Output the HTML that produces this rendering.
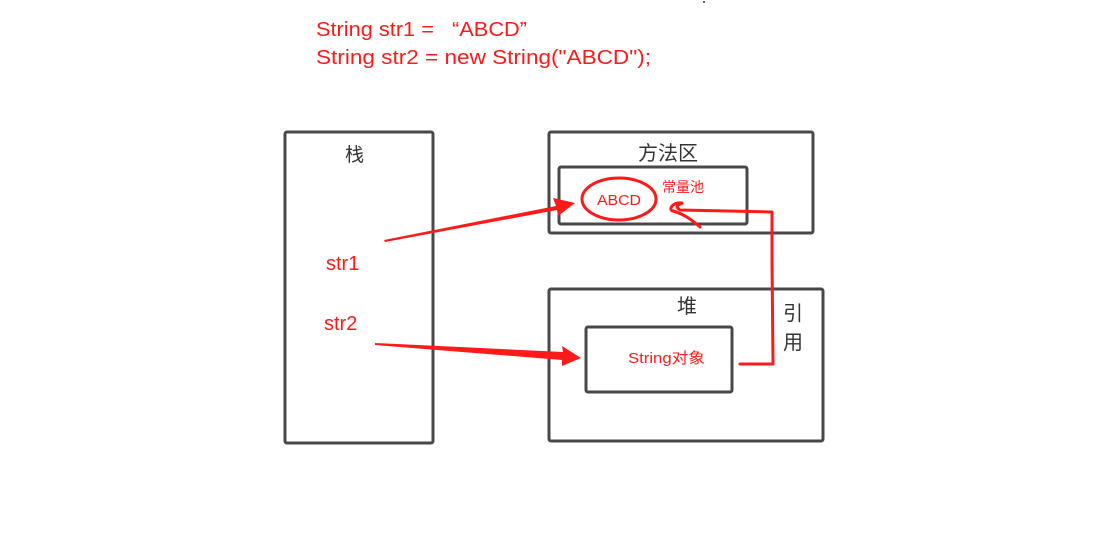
<!DOCTYPE html>
<html><head><meta charset="utf-8"><style>
html,body{margin:0;padding:0;background:#fff;}
svg{display:block}
text{font-family:"Liberation Sans","Noto Sans CJK SC",sans-serif;}
</style></head><body>
<svg width="1110" height="543" viewBox="0 0 1110 543">
<text x="316" y="36" font-size="20" fill="#ff1a1a" textLength="211" lengthAdjust="spacingAndGlyphs">String str1 =&#160;&#160;&#160;“ABCD”</text>
<text x="316" y="64" font-size="20" fill="#ff1a1a" textLength="335" lengthAdjust="spacingAndGlyphs">String str2 = new String("ABCD");</text>
<circle cx="704" cy="2" r="1" fill="#333"/>
<g fill="none" stroke="#484848" stroke-width="3">
<rect x="285" y="132" width="148" height="311" rx="2"/>
<rect x="549" y="132" width="264" height="101" rx="2"/>
<rect x="559" y="167" width="188" height="57" rx="2"/>
<rect x="549" y="289" width="274" height="152" rx="2"/>
<rect x="586" y="327" width="146" height="65" rx="2"/>
</g>
<text x="345" y="161" font-size="19" fill="#333">栈</text>
<text x="638" y="160" font-size="20" fill="#333">方法区</text>
<text x="677" y="313" font-size="20" fill="#333">堆</text>
<text x="783" y="320" font-size="20" fill="#333">引</text>
<text x="783" y="349" font-size="20" fill="#333">用</text>
<text x="326" y="270" font-size="20" fill="#ff1a1a">str1</text>
<text x="324" y="330" font-size="20" fill="#ff1a1a">str2</text>
<text x="662" y="192" font-size="14" fill="#ff1a1a">常量池</text>
<text x="628" y="363" font-size="15" fill="#ff1a1a" textLength="77" lengthAdjust="spacingAndGlyphs">String对象</text>
<ellipse cx="619" cy="199" rx="37" ry="21" fill="none" stroke="#ff1a1a" stroke-width="3"/>
<text x="597" y="205" font-size="15" fill="#ff1a1a" textLength="44" lengthAdjust="spacingAndGlyphs">ABCD</text>
<path d="M384 240 L556 206 L553 198 L575 203 L558 216 L557 210 L385 242 Z" fill="#ff1a1a"/>
<path d="M375 343 L563 352 L562 346 L581 358 L562 366 L562 360 L375 345 Z" fill="#ff1a1a"/>
<path d="M740 364 L773 364 L772 260 L772 212 L680 210 C672 205 683 204 682 203 C672 202 668 210 673 211 C684 214 692 220 700 227" fill="none" stroke="#ff1a1a" stroke-width="3" stroke-linecap="round" stroke-linejoin="round"/>
</svg>
</body></html>
